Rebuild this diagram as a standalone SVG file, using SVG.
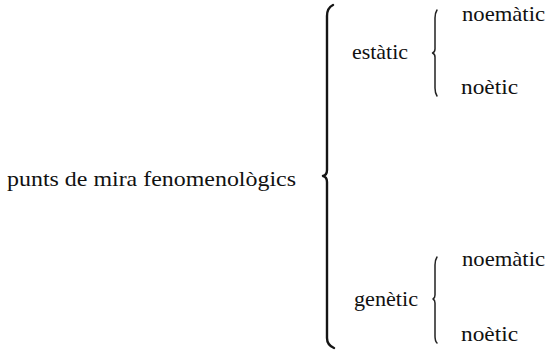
<svg xmlns="http://www.w3.org/2000/svg" width="547" height="350" viewBox="0 0 547 350">
<style>
text{font-family:'Liberation Serif','DejaVu Serif','Times New Roman',serif;font-size:21px;fill:#111111}
.big{fill:none;stroke:#151515;stroke-width:2.4;stroke-linecap:round;stroke-linejoin:round}
.small{fill:none;stroke:#222222;stroke-width:1.5;stroke-linecap:round;stroke-linejoin:round}
</style>
<rect width="547" height="350" fill="#ffffff"/>
<g id="connectors">
<path class="big" d="M333,5 Q327,8 327,16 L327,170 Q327,175 323,176 Q327,177 327,182 L327,338 Q327,345 334,348"/>
<path class="small" d="M437,10 Q435,13 435,18 L435,49 Q435,52 432.5,53 Q435,54 435,57 L435,88 Q435,93 437,96"/>
<path class="small" d="M437,257 Q435,260 435,265 L435,295 Q435,298 433,299 Q435,300 435,303 L435,336 Q435,341 437,343"/>
</g>
<g id="root"><text x="7" y="186" textLength="289" lengthAdjust="spacingAndGlyphs">punts de mira fenomenològics</text></g>
<g id="estatic"><text x="352" y="59" textLength="56" lengthAdjust="spacingAndGlyphs">estàtic</text></g>
<g id="estatic-noematic"><text x="462" y="21" textLength="83" lengthAdjust="spacingAndGlyphs">noemàtic</text></g>
<g id="estatic-noetic"><text x="461" y="94" textLength="57" lengthAdjust="spacingAndGlyphs">noètic</text></g>
<g id="genetic"><text x="354" y="306" textLength="64" lengthAdjust="spacingAndGlyphs">genètic</text></g>
<g id="genetic-noematic"><text x="462" y="266" textLength="83" lengthAdjust="spacingAndGlyphs">noemàtic</text></g>
<g id="genetic-noetic"><text x="461" y="341" textLength="57" lengthAdjust="spacingAndGlyphs">noètic</text></g>
</svg>
